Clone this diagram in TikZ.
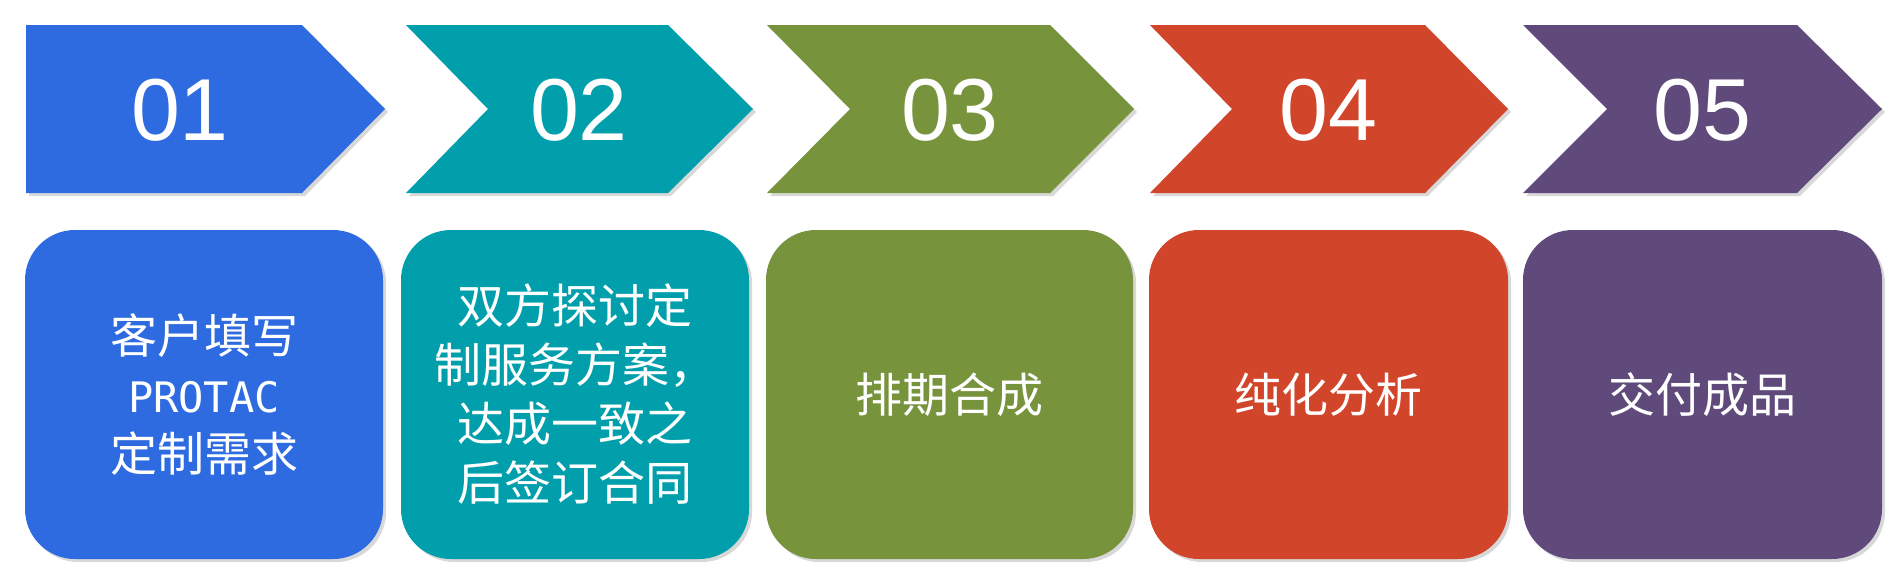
\documentclass[tikz,border=0pt]{standalone}
\usepackage{fontspec}
\setmainfont{Liberation Sans}
\newfontfamily\cjk{Noto Sans CJK SC}
\newfontfamily\latinmono{DejaVu Sans Mono}
\usetikzlibrary{shadows}

\definecolor{stepblue}{HTML}{2E6BE0}
\definecolor{stepteal}{HTML}{009FAB}
\definecolor{stepgreen}{HTML}{77933C}
\definecolor{stepred}{HTML}{D1452B}
\definecolor{steppurple}{HTML}{5F4A7B}

\begin{document}
\begin{tikzpicture}[x=1pt,y=-1pt,
		chevron/.style={drop shadow={shadow xshift=3pt,shadow yshift=-3pt,opacity=.3}},
		num/.style={text=white,font=\fontsize{88}{90}\selectfont},
		card/.style={rounded corners=50pt,minimum height=329pt,text=white,align=center,
			font=\cjk\fontsize{47}{59}\selectfont,
			drop shadow={shadow xshift=3pt,shadow yshift=-3pt,opacity=.3}}]
		\useasboundingbox[fill=white] (0,0) rectangle (1896,582);

		% top row of arrows
		\fill[stepblue,chevron] (26,25) -- (302,25) -- (385,109) -- (302,193) -- (26,193) -- cycle;
		\fill[stepteal,chevron] (406,25) -- (668,25) -- (753,109) -- (668,193) -- (406,193) -- (488,109) -- cycle;
		\fill[stepgreen,chevron] (767,25) -- (1050,25) -- (1134,109) -- (1050,193) -- (767,193) -- (850,109) -- cycle;
		\fill[stepred,chevron] (1150,25) -- (1425,25) -- (1508,109) -- (1425,193) -- (1150,193) -- (1232,109) -- cycle;
		\fill[steppurple,chevron] (1523,25) -- (1797,25) -- (1882,109) -- (1797,193) -- (1523,193) -- (1607,109) -- cycle;

		\node[num] (num1) at (180,110) {01};
		\node[num] (num2) at (579,110) {02};
		\node[num] (num3) at (950,110) {03};
		\node[num] (num4) at (1328,110) {04};
		\node[num] (num5) at (1702,110) {05};

		% boxes below
		\node[card,fill=stepblue,minimum width=358pt] (card1) at (204,394.5) {客户填写\\{\latinmono\fontsize{42}{59}\selectfont PROTAC}\\定制需求};
		\node[card,fill=stepteal,minimum width=348pt] (card2) at (575,394.5) {双方探讨定\\制服务方案，\\达成一致之\\后签订合同};
		\node[card,fill=stepgreen,minimum width=367pt] (card3) at (949.5,394.5) {排期合成};
		\node[card,fill=stepred,minimum width=359pt] (card4) at (1328.5,394.5) {纯化分析};
		\node[card,fill=steppurple,minimum width=359pt] (card5) at (1702.5,394.5) {交付成品};
	\end{tikzpicture}
\end{document}
